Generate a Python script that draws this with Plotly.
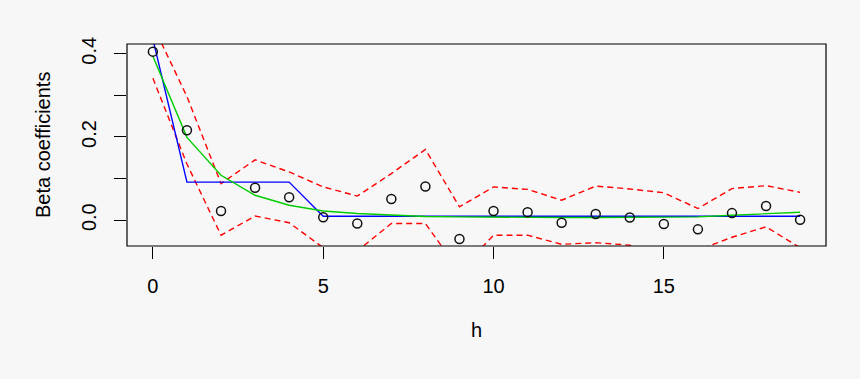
import plotly.graph_objects as go

h = list(range(20))
beta = [0.405, 0.216, 0.022, 0.078, 0.055, 0.007, -0.008, 0.051, 0.081, -0.045,
        0.022, 0.019, -0.006, 0.015, 0.0065, -0.009, -0.022, 0.017, 0.034, 0.001]
upper = [0.469, 0.297, 0.088, 0.145, 0.116, 0.080, 0.058, 0.112, 0.170, 0.032,
         0.080, 0.074, 0.048, 0.082, 0.075, 0.066, 0.028, 0.076, 0.083, 0.067]
lower = [0.341, 0.135, -0.036, 0.010, -0.006, -0.066, -0.074, -0.008, -0.008, -0.122,
         -0.036, -0.036, -0.058, -0.054, -0.060, -0.084, -0.072, -0.041, -0.016, -0.066]
blue_fit = [0.435, 0.0916, 0.0916, 0.0916, 0.0916, 0.0096, 0.0096, 0.0096, 0.0096, 0.0096,
            0.0096, 0.0096, 0.0096, 0.0096, 0.0096, 0.0096, 0.0096, 0.0096, 0.0096, 0.0096]
green_fit = [0.394, 0.199, 0.108, 0.060, 0.036, 0.022, 0.016, 0.012, 0.009, 0.008,
             0.007, 0.0065, 0.0065, 0.0065, 0.0065, 0.007, 0.008, 0.012, 0.015, 0.019]

x_ticks = [0, 5, 10, 15]
y_ticks = [0.0, 0.1, 0.2, 0.3, 0.4]
y_ticktext = ["0.0", "", "0.2", "", "0.4"]

FONT = "Liberation Sans, Arial, Helvetica, sans-serif"
BG = "#f7f7f7"

fig = go.Figure()
fig.add_trace(go.Scatter(x=h, y=upper, mode="lines",
                         line=dict(color="#ff0000", width=1.4, dash="6px,4px")))
fig.add_trace(go.Scatter(x=h, y=lower, mode="lines",
                         line=dict(color="#ff0000", width=1.4, dash="6px,4px")))
fig.add_trace(go.Scatter(x=h, y=blue_fit, mode="lines",
                         line=dict(color="#0000ff", width=1.4)))
fig.add_trace(go.Scatter(x=h, y=green_fit, mode="lines",
                         line=dict(color="#00cd00", width=1.4)))
fig.add_trace(go.Scatter(x=h, y=beta, mode="markers",
                         marker=dict(symbol="circle-open", size=9,
                                     color="#111111", line=dict(width=1.5, color="#111111"))))

fig.update_layout(
    width=860, height=379,
    margin=dict(l=127, r=34, t=44, b=133),
    paper_bgcolor=BG, plot_bgcolor=BG,
    showlegend=False,
    font=dict(family=FONT, size=20, color="#000000"),
    xaxis=dict(range=[-0.76, 19.76], showgrid=False, zeroline=False,
               tickmode="array", tickvals=x_ticks, ticks="outside", ticklen=12,
               tickwidth=1, tickcolor="#000000", ticklabelstandoff=10,
               tickfont=dict(size=20, family=FONT)),
    yaxis=dict(range=[-0.062, 0.4234], showgrid=False, zeroline=False,
               tickmode="array", tickvals=y_ticks, ticktext=y_ticktext,
               ticks="outside", ticklen=12, tickwidth=1, tickcolor="#000000",
               tickangle=-90, ticklabelstandoff=10,
               tickfont=dict(size=20, family=FONT)),
    shapes=[dict(type="rect", xref="paper", yref="paper", x0=0, x1=1, y0=0, y1=1,
                 line=dict(color="#000000", width=1.2), fillcolor="rgba(0,0,0,0)")],
    annotations=[
        dict(text="Beta coefficients", xref="paper", yref="paper",
             x=(43 - 127) / 699, y=0.5, xanchor="center", yanchor="middle",
             textangle=-90, showarrow=False, font=dict(size=20, family=FONT)),
        dict(text="h", xref="paper", yref="paper",
             x=0.5, y=(245.7 - 330) / 201.7, xanchor="center", yanchor="middle",
             showarrow=False, font=dict(size=20, family=FONT)),
    ],
)

fig.write_html("out.html")
